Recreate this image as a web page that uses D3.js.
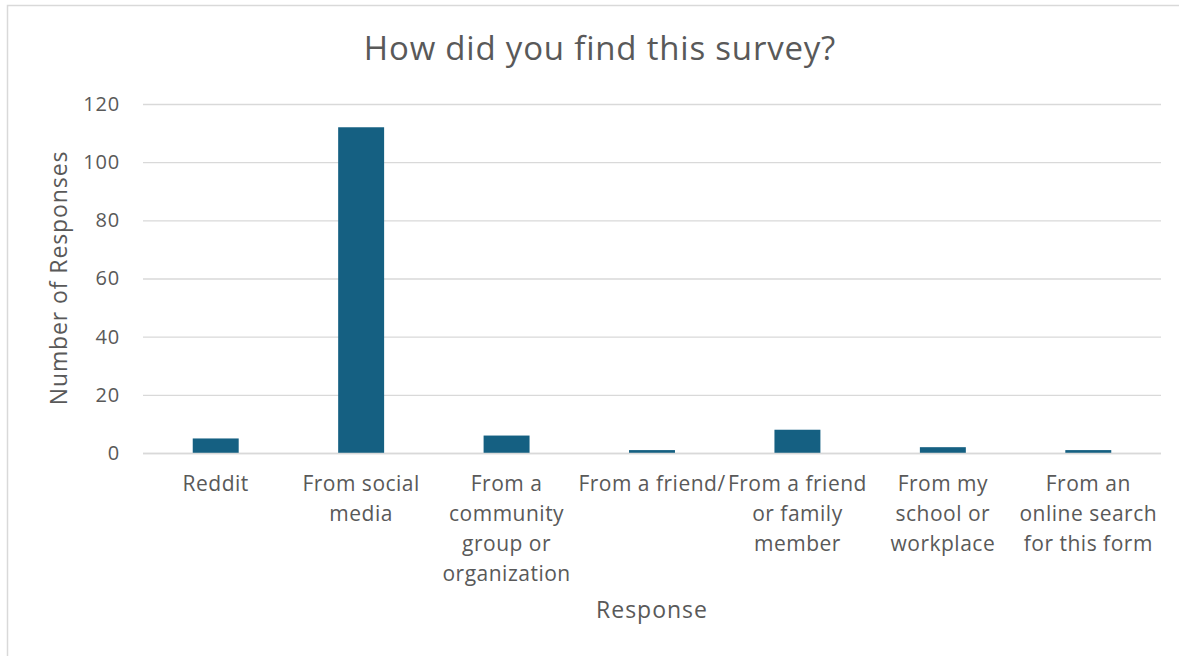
<!DOCTYPE html>
<html><head><meta charset="utf-8">
<script src="https://cdn.jsdelivr.net/npm/d3@7"></script>
<style>body{margin:0;background:#fff}svg{display:block}text{font-family:"Open Sans",sans-serif;fill:#595959}</style>
</head><body><svg id="c" width="1179" height="656"></svg>
<script>
const categories = [["Reddit"],["From social","media"],["From a","community","group or","organization"],["From a friend/"],["From a friend","or family","member"],["From my","school or","workplace"],["From an","online search","for this form"]];
const values = [5,112,6,1,8,2,1];
const yTicks = [0,20,40,60,80,100,120];
const title = "How did you find this survey?";
const xTitle = "Response";
const yTitle = "Number of Responses";

const svg = d3.select("#c");
svg.append("rect").attr("x",7.5).attr("y",5.5).attr("width",1200).attr("height",700).attr("fill","#fff").attr("stroke","#d9d9d9").attr("stroke-width",1.5);
const L=143,R=1161,T=104,B=453;
const x = d3.scaleBand().domain(d3.range(categories.length)).range([L,R]).paddingInner(0.684).paddingOuter(0.342);
const y = d3.scaleLinear().domain([0,120]).range([B,T]);
const yAxis = svg.append("g").attr("transform",`translate(${L},0)`).call(d3.axisLeft(y).tickValues(yTicks).tickSize(-(R-L)).tickPadding(23));
yAxis.select(".domain").remove();
yAxis.selectAll("line").attr("stroke","#d9d9d9").attr("stroke-width",1.3);
yAxis.selectAll("text").attr("font-size",20).style("letter-spacing","0.8px").style("fill","#595959");
svg.selectAll(".bar").data(values).join("rect").attr("x",(d,i)=>x(i)).attr("width",x.bandwidth()).attr("y",d=>y(d)).attr("height",d=>B-y(d)).attr("fill","#156082");
svg.append("line").attr("x1",L).attr("x2",R).attr("y1",B+0.5).attr("y2",B+0.5).attr("stroke","#d9d9d9").attr("stroke-width",1.5);
const lab = svg.append("g");
categories.forEach((lines,i)=>{
  const t = lab.append("text").attr("x",x(i)+x.bandwidth()/2).attr("y",491).attr("text-anchor","middle").attr("font-size",21).style("letter-spacing","0.5px");
  lines.forEach((s,j)=>t.append("tspan").attr("x",x(i)+x.bandwidth()/2).attr("dy",j?30:0).text(s));
});
svg.append("text").attr("x",600).attr("y",60).attr("text-anchor","middle").attr("font-size",33).style("letter-spacing","0.8px").text(title);
svg.append("text").attr("x",652).attr("y",618).attr("text-anchor","middle").attr("font-size",23).style("letter-spacing","1px").text(xTitle);
svg.append("text").attr("transform","translate(67,278) rotate(-90)").attr("text-anchor","middle").attr("font-size",23).style("letter-spacing","0.9px").text(yTitle);
</script></body></html>
